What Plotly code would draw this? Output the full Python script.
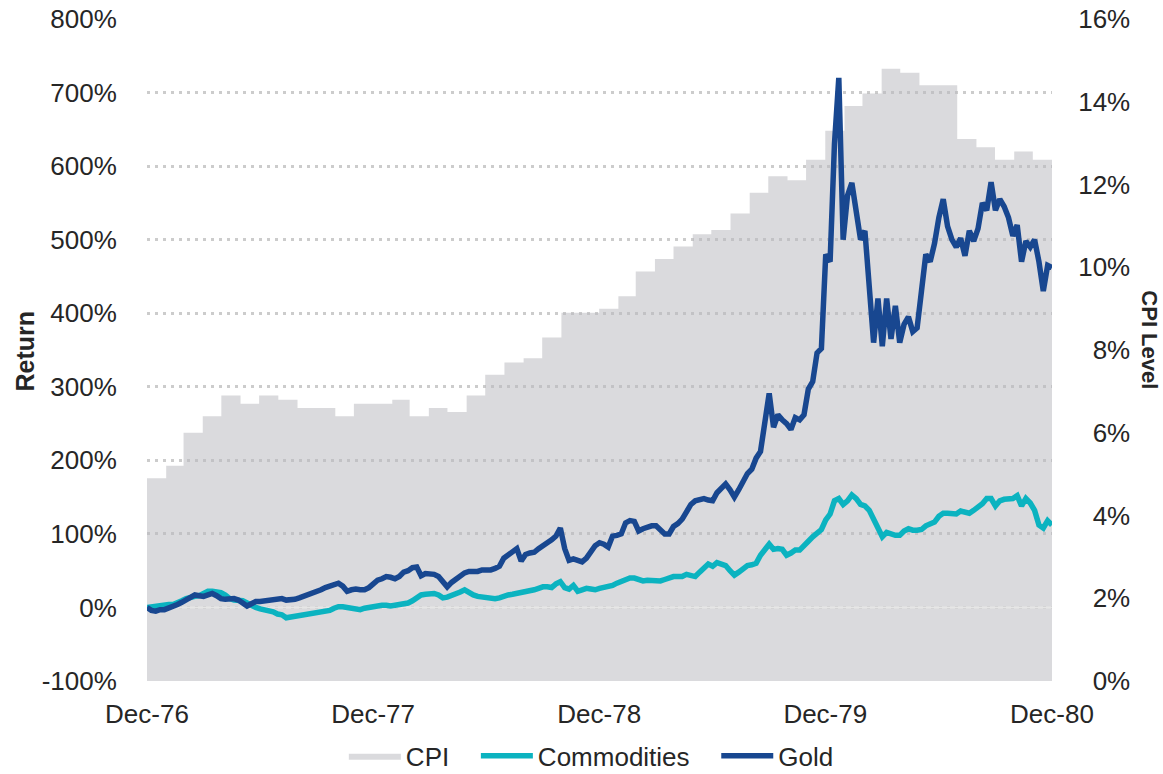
import pandas as pd
import plotly.graph_objects as go

# Monthly US CPI inflation (year-over-year, %), month-end Dec-76 .. Dec-80
cpi_level = [
    4.9,
    5.2, 6.0, 6.4, 6.9, 6.7, 6.9, 6.8, 6.6, 6.6, 6.4, 6.7, 6.7,
    6.8, 6.4, 6.6, 6.5, 6.9, 7.4, 7.7, 7.8, 8.3, 8.9, 8.9, 9.0,
    9.3, 9.9, 10.2, 10.5, 10.8, 10.9, 11.3, 11.8, 12.2, 12.1, 12.6, 13.3,
    13.9, 14.2, 14.8, 14.7, 14.4, 14.4, 13.1, 12.9, 12.6, 12.8, 12.6, 12.5,
]

# Weekly cumulative returns (%) since Dec-76
commodities_return = [
    0, 1, 2, 3, 4, 4, 4, 6, 9, 12, 14, 15, 16, 19, 22, 22, 21, 20, 17, 12,
    10, 10, 9, 6, 2, 0, -2, -3, -4, -6, -9, -10, -14, -13, -12, -12, -11, -10, -8, -8,
    -7, -6, -4, -1, 1, 1, 0, 0, -1, -3, -1, 0, 2, 3, 3, 3, 2, 3, 4, 4,
    6, 9, 14, 17, 18, 18, 19, 17, 13, 14, 16, 18, 21, 24, 20, 17, 15, 14, 13, 12,
    12, 13, 16, 17, 18, 19, 20, 22, 23, 24, 26, 28, 28, 27, 32, 35, 27, 25, 30, 22,
    24, 26, 25, 24, 26, 27, 28, 30, 33, 35, 37, 40, 40, 37, 36, 37, 37, 37, 36, 38,
    41, 42, 42, 42, 45, 44, 42, 48, 54, 59, 56, 61, 59, 57, 50, 44, 48, 53, 57, 58,
    60, 71, 80, 86, 79, 80, 79, 71, 74, 78, 78, 83, 90, 96, 101, 106, 119, 127, 145, 148,
    140, 145, 153, 148, 140, 138, 132, 119, 110, 96, 102, 100, 98, 98, 104, 107, 105, 105, 106, 111,
    114, 116, 124, 128, 128, 127, 127, 131, 130, 128, 132, 136, 141, 148, 148, 138, 145, 147, 148, 148,
    152, 138, 148, 142, 132, 112, 108, 118, 112,
]

gold_return = [
    0, -4, -5, -3, -3, -1, 2, 4, 7, 11, 14, 17, 16, 15, 17, 19, 16, 12, 11, 12,
    12, 10, 7, 2, 5, 8, 8, 9, 10, 11, 12, 12, 10, 10, 11, 13, 15, 17, 19, 21,
    24, 27, 29, 31, 33, 29, 22, 24, 25, 24, 24, 27, 33, 37, 39, 42, 41, 39, 42, 48,
    50, 54, 55, 43, 46, 46, 45, 42, 34, 28, 34, 39, 43, 47, 49, 49, 49, 51, 51, 51,
    53, 56, 67, 71, 77, 80, 63, 72, 74, 75, 80, 85, 88, 92, 97, 108, 80, 64, 66, 64,
    62, 67, 76, 84, 88, 86, 82, 97, 98, 100, 115, 118, 117, 104, 107, 110, 111, 111, 106, 100,
    100, 110, 114, 120, 130, 140, 145, 147, 148, 146, 145, 156, 163, 168, 160, 150, 160, 172, 182, 188,
    203, 212, 248, 291, 245, 262, 255, 250, 242, 258, 255, 262, 297, 307, 346, 352, 480, 470, 630, 720,
    500, 560, 577, 540, 500, 512, 436, 360, 420, 355, 420, 365, 410, 360, 385, 395, 375, 380, 430, 480,
    470, 495, 530, 555, 518, 500, 490, 502, 478, 512, 498, 515, 550, 540, 578, 540, 555, 545, 530, 505,
    520, 470, 498, 490, 500, 470, 430, 465, 462,
]

tick_dates = ["1976-12-31", "1977-12-31", "1978-12-31", "1979-12-31", "1980-12-31"]
tick_labels = ["Dec-76", "Dec-77", "Dec-78", "Dec-79", "Dec-80"]

return_ticks = [-100, 0, 100, 200, 300, 400, 500, 600, 700, 800]
return_labels = ["-100%", "0%", "100%", "200%", "300%", "400%", "500%", "600%", "700%", "800%"]
cpi_ticks = [0, 2, 4, 6, 8, 10, 12, 14, 16]
# figure spaces keep the single-digit labels flush right with "16%"
cpi_labels = ["\u20070%", "\u20072%", "\u20074%", "\u20076%", "\u20078%",
              "10%", "12%", "14%", "16%"]

cpi_dates = pd.date_range("1976-12-31", periods=len(cpi_level), freq=pd.offsets.MonthEnd())
week_dates = pd.date_range("1976-12-31", "1980-12-31", periods=len(gold_return))

GRAY_FILL = "rgba(184,185,189,0.52)"
TEAL = "#0BB3C0"
NAVY = "#184790"
TEXT = "#262626"
FONT = "Liberation Sans, Arial, sans-serif"
PAD = "\u00a0\u00a0\u00a0"  # extra room after a legend entry

fig = go.Figure()

# CPI as a stepped area on the right-hand axis (drawn first, underneath)
fig.add_trace(go.Scatter(
    x=cpi_dates, y=cpi_level, name="CPI" + PAD, yaxis="y",
    mode="lines", line=dict(shape="hv", width=0, color=GRAY_FILL),
    fill="tozeroy", fillcolor=GRAY_FILL,
))

# light baseline at 0% return
fig.add_trace(go.Scatter(
    x=[week_dates[0], week_dates[-1]], y=[0, 0], yaxis="y2",
    mode="lines", line=dict(color="#e6e6e6", width=2),
    showlegend=False, hoverinfo="skip",
))

fig.add_trace(go.Scatter(
    x=week_dates, y=commodities_return, name="Commodities" + PAD, yaxis="y2",
    mode="lines", line=dict(color=TEAL, width=5.5),
))
fig.add_trace(go.Scatter(
    x=week_dates, y=gold_return, name="Gold", yaxis="y2",
    mode="lines", line=dict(color=NAVY, width=5.5),
))

fig.update_layout(
    width=1163, height=774,
    margin=dict(l=147, r=111, t=19, b=93, autoexpand=False),
    paper_bgcolor="white", plot_bgcolor="white",
    font=dict(family=FONT, size=26, color=TEXT),
    showlegend=True,
    legend=dict(
        orientation="h", x=0.491, xanchor="center", y=-0.113, yanchor="middle",
        font=dict(size=26, color=TEXT), itemwidth=52, traceorder="normal",
    ),
    hovermode=False,
    xaxis=dict(
        type="date", range=[tick_dates[0], tick_dates[-1]],
        tickvals=tick_dates, ticktext=tick_labels, automargin=False,
        showgrid=False, zeroline=False, showline=False,
        ticks="outside", ticklen=10, tickcolor="rgba(0,0,0,0)",
    ),
    yaxis=dict(
        side="right", range=[0, 16], tickvals=cpi_ticks, ticktext=cpi_labels,
        automargin=False, showgrid=False, zeroline=False, showline=False,
        ticks="outside", ticklen=20, tickcolor="rgba(0,0,0,0)",
    ),
    yaxis2=dict(
        overlaying="y", side="left", range=[-100, 800],
        tickvals=return_ticks, ticktext=return_labels, automargin=False,
        showgrid=True, gridcolor="#cccccc", gridwidth=3, griddash="3px,5px",
        zeroline=False, showline=False,
        ticks="outside", ticklen=24, tickcolor="rgba(0,0,0,0)",
    ),
    annotations=[
        dict(text="<b>Return</b>", textangle=-90, xref="paper", yref="paper",
             x=-0.135, y=0.499, xanchor="center", yanchor="middle",
             showarrow=False, font=dict(size=25, color=TEXT)),
        dict(text="<b>CPI Level</b>", textangle=90, xref="paper", yref="paper",
             x=1.108, y=0.515, xanchor="center", yanchor="middle",
             showarrow=False, font=dict(size=22, color=TEXT)),
    ],
)

fig.write_html("out.html")
